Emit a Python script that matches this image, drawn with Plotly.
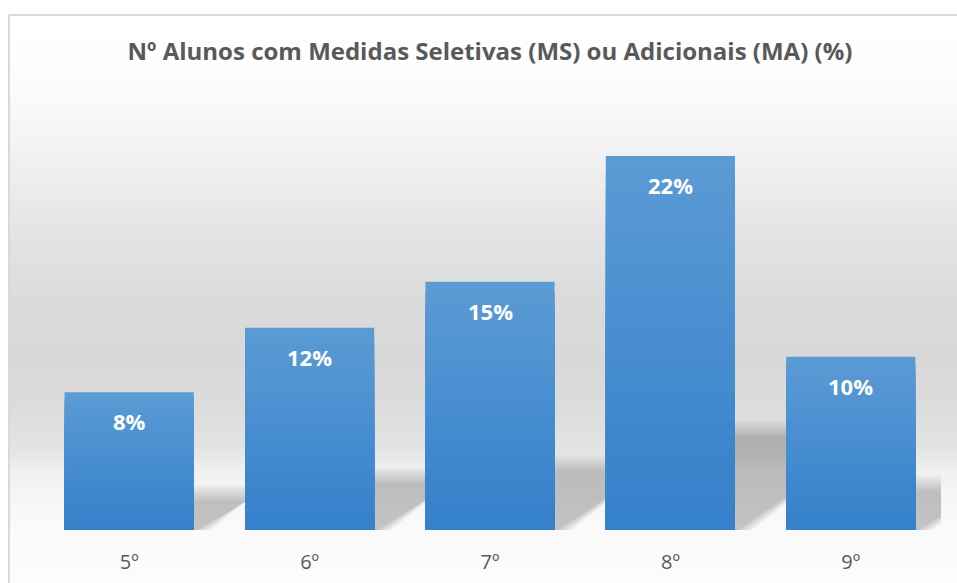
import plotly.graph_objects as go
import numpy as np

# ---- data ----
categories = ["5º", "6º", "7º", "8º", "9º"]
values = [8.1, 11.9, 14.6, 22.0, 10.2]          # % of students
labels = ["8%", "12%", "15%", "22%", "10%"]
title_text = "Nº Alunos com Medidas Seletivas (MS) ou Adicionais (MA) (%)"

# ---- layout geometry (pixels) ----
W, H = 957, 583
ML, MR, MT, MB = 39, 16, 100, 53
PW, PH = W - ML - MR, H - MT - MB
YMAX = 25.3
BARGAP = 0.284

def px_x(p):  # pixel x -> paper x
    return (p - ML) / PW

def px_y(p):  # pixel y (from top) -> paper y
    return (H - MB - p) / PH

fig = go.Figure()

# bar gradient via overlaid bars (light at top, darker at bottom)
N = 24
top_rgb = np.array([91, 155, 213])
bot_rgb = np.array([52, 128, 203])
for k in range(N, 0, -1):
    frac = k / N
    c = bot_rgb + (top_rgb - bot_rgb) * frac
    fig.add_trace(go.Bar(
        x=categories,
        y=[v * frac for v in values],
        marker=dict(color="rgb(%d,%d,%d)" % tuple(c.astype(int)), line=dict(width=0)),
        hoverinfo="skip",
        showlegend=False,
    ))

# value labels near the top inside bars
for cat, v, lab in zip(categories, values, labels):
    fig.add_annotation(x=cat, y=v, text="<b>%s</b>" % lab, showarrow=False,
                       yanchor="top", yshift=-12,
                       font=dict(family="Open Sans", size=22, color="white"))

# background gradient strips
stops_y = [15, 60, 110, 160, 210, 260, 310, 360, 410, 450, 470, 500, 530, 583]
stops_g = [255, 254, 248, 240, 232, 224, 218, 216, 220, 228, 240, 246, 250, 252]
shapes = []
ys = np.arange(15, 583, 3)
for y0 in ys:
    g = int(round(np.interp(y0 + 1.5, stops_y, stops_g)))
    shapes.append(dict(type="rect", xref="paper", yref="paper", layer="below",
                       x0=px_x(10), x1=px_x(957), y0=px_y(y0 + 3), y1=px_y(y0),
                       line=dict(width=0), fillcolor="rgb(%d,%d,%d)" % (g, g, g)))

# soft cast shadows behind bars (derived from bar values)
px_per_cat = PW / len(categories)
px_per_unit = PH / YMAX
half_w = (1 - BARGAP) / 2
ux = 1 / px_per_cat     # one pixel in category units
uy = 1 / px_per_unit    # one pixel in data units
for i, v in enumerate(values):
    hs_px = 0.27 * v * px_per_unit
    xr = i + half_w
    for j in range(6):
        grow = 7.5 - 3 * j
        top = (hs_px + grow) * uy
        tr = xr + (1.3 * hs_px + 15 + grow) * ux
        br = xr + (10 + grow) * ux
        path = "M %f,%f L %f,%f L %f,%f L %f,%f Z" % (
            xr - 2 * ux, 0, xr - 2 * ux, top, tr, top, br, 0)
        shapes.append(dict(type="path", xref="x", yref="y", layer="below", path=path,
                           fillcolor="rgba(0,0,0,0.04)", line=dict(width=0)))

# chart border (top and left)
shapes.append(dict(type="line", xref="paper", yref="paper", x0=px_x(9), x1=px_x(960),
                   y0=px_y(15), y1=px_y(15), line=dict(color="#d9d9d9", width=2)))
shapes.append(dict(type="line", xref="paper", yref="paper", x0=px_x(9), x1=px_x(9),
                   y0=px_y(15), y1=px_y(590), line=dict(color="#d9d9d9", width=2)))

fig.update_layout(
    width=W, height=H,
    margin=dict(l=ML, r=MR, t=MT, b=MB),
    paper_bgcolor="white", plot_bgcolor="rgba(0,0,0,0)",
    barmode="overlay", bargap=BARGAP,
    shapes=shapes,
    title=dict(text="<b>%s</b>" % title_text, x=490 / W, xanchor="center",
               y=1 - 52 / H, yanchor="middle",
               font=dict(family="Open Sans", size=24, color="#595959")),
    xaxis=dict(showgrid=False, showline=False, zeroline=False, ticks="",
               ticklabelstandoff=18, range=[-0.5, 4.5], automargin=False,
               tickfont=dict(family="Open Sans", size=20, color="#595959")),
    yaxis=dict(range=[0, YMAX], visible=False, automargin=False),
)

fig.write_html("out.html", post_script="document.body.style.margin='0';",
               config={"displayModeBar": False})
